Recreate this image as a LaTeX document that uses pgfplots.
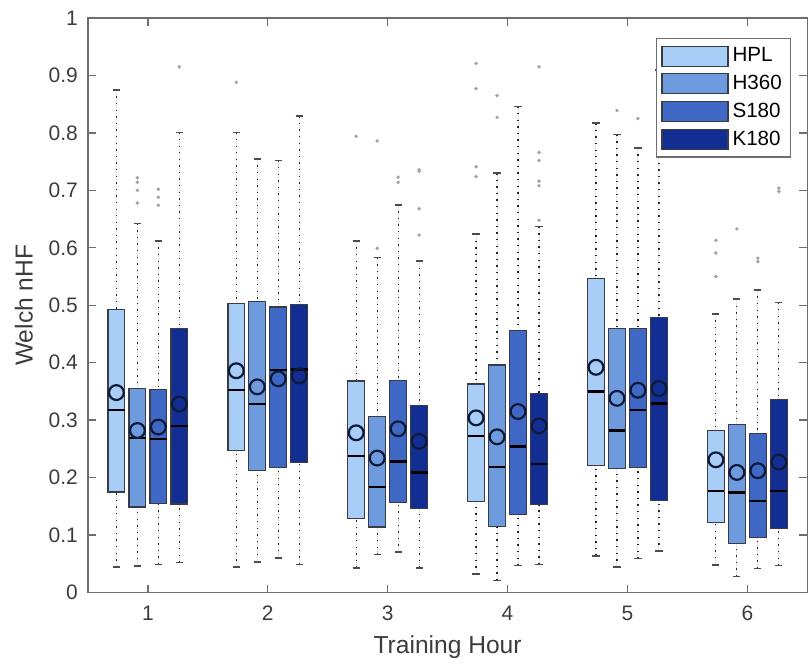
\documentclass[border=0pt]{standalone}
\usepackage{pgfplots}
\pgfplotsset{compat=1.18}
\usepgfplotslibrary{statistics}
\usepackage{fontspec}
\setmainfont{Liberation Sans}
\definecolor{cHPL}{RGB}{168,205,246}
\definecolor{cH}{RGB}{110,155,222}
\definecolor{cS}{RGB}{62,104,196}
\definecolor{cK}{RGB}{18,46,146}
\definecolor{boxedge}{RGB}{55,60,70}
\definecolor{meancol}{RGB}{14,26,58}
\definecolor{outcol}{RGB}{165,165,165}
\definecolor{axcol}{RGB}{110,110,110}
\definecolor{txtcol}{RGB}{60,60,60}
\newcommand{\bx}[8]{\addplot[boxplot prepared={draw position=#1, lower whisker=#3, lower quartile=#4, median=#5, upper quartile=#6, upper whisker=#7, box extend=0.14, whisker extend=0.06}, fill=#2, draw=boxedge, line width=0.6pt, mark=*, mark size=0.55pt, mark options={draw=outcol, fill=outcol, solid}] coordinates {#8};}
\begin{document}
\begin{tikzpicture}
\begin{axis}[
  scale only axis,
  width=360pt, height=287.5pt,
  xmin=0.5, xmax=6.5, ymin=0, ymax=1,
  xtick={1,2,3,4,5,6},
  ytick={0,0.1,0.2,0.3,0.4,0.5,0.6,0.7,0.8,0.9,1},
  yticklabels={0,0.1,0.2,0.3,0.4,0.5,0.6,0.7,0.8,0.9,1},
  tick align=inside,
  major tick length=4pt,
  axis line style={axcol, line width=0.7pt},
  every tick/.style={axcol, line width=0.7pt},
  /pgf/number format/assume math mode=true,
  tick label style={font=\fontsize{10.5}{12}\selectfont, text=txtcol},
  xticklabel style={yshift=-3pt},
  yticklabel style={xshift=-1.5pt},
  xlabel={Training Hour},
  ylabel={Welch nHF},
  every axis x label/.style={at={(axis description cs:0.5,-0.0957)}, anchor=center, font=\fontsize{12.3}{14}\selectfont, text=txtcol},
  every axis y label/.style={at={(axis description cs:-0.089,0.5)}, anchor=center, rotate=90, font=\fontsize{12.3}{14}\selectfont, text=txtcol},
  boxplot/draw direction=y,
  boxplot/every median/.style={draw=black, line width=1.1pt},
  boxplot/draw/lower whisker/.code={
    \draw[black!85, line width=0.6pt, dash pattern=on 0.7pt off 2.6pt] (boxplot cs:\pgfplotsboxplotvalue{lower whisker}) -- (boxplot cs:\pgfplotsboxplotvalue{lower quartile});
    \draw[black!70, line width=0.8pt, solid] (boxplot whisker cs:\pgfplotsboxplotvalue{lower whisker},0) -- (boxplot whisker cs:\pgfplotsboxplotvalue{lower whisker},1);
  },
  boxplot/draw/upper whisker/.code={
    \draw[black!85, line width=0.6pt, dash pattern=on 0.7pt off 2.6pt] (boxplot cs:\pgfplotsboxplotvalue{upper whisker}) -- (boxplot cs:\pgfplotsboxplotvalue{upper quartile});
    \draw[black!70, line width=0.8pt, solid] (boxplot whisker cs:\pgfplotsboxplotvalue{upper whisker},0) -- (boxplot whisker cs:\pgfplotsboxplotvalue{upper whisker},1);
  },
  legend style={at={(1,1)}, anchor=north east, xshift=-8pt, yshift=-10pt, draw=axcol, line width=0.6pt, font=\fontsize{10.3}{11}\selectfont, inner sep=2.5pt, row sep=1.2pt, fill=white},
  legend cell align=left,
  legend image code/.code={\draw[#1, draw=boxedge, line width=0.6pt] (0pt,-5pt) rectangle (33pt,5pt);},
]
% group 1
\bx{0.7375}{cHPL}{0.044}{0.175}{0.318}{0.492}{0.875}{}
\bx{0.9125}{cH}{0.046}{0.149}{0.269}{0.355}{0.642}{(0,0.722)(0,0.714)(0,0.700)(0,0.678)}
\bx{1.0875}{cS}{0.049}{0.155}{0.267}{0.354}{0.612}{(0,0.702)(0,0.688)(0,0.674)}
\bx{1.2625}{cK}{0.052}{0.154}{0.290}{0.459}{0.801}{(0,0.915)}
% group 2
\bx{1.7375}{cHPL}{0.044}{0.247}{0.352}{0.503}{0.801}{(0,0.888)}
\bx{1.9125}{cH}{0.053}{0.213}{0.328}{0.507}{0.755}{}
\bx{2.0875}{cS}{0.060}{0.217}{0.387}{0.497}{0.752}{}
\bx{2.2625}{cK}{0.049}{0.226}{0.388}{0.501}{0.829}{}
% group 3
\bx{2.7375}{cHPL}{0.043}{0.129}{0.237}{0.368}{0.612}{(0,0.794)}
\bx{2.9125}{cH}{0.066}{0.114}{0.184}{0.306}{0.583}{(0,0.786)(0,0.599)}
\bx{3.0875}{cS}{0.070}{0.157}{0.228}{0.369}{0.675}{(0,0.723)(0,0.714)}
\bx{3.2625}{cK}{0.043}{0.146}{0.209}{0.325}{0.577}{(0,0.736)(0,0.733)(0,0.668)(0,0.622)}
% group 4
\bx{3.7375}{cHPL}{0.032}{0.158}{0.273}{0.363}{0.624}{(0,0.921)(0,0.877)(0,0.741)(0,0.724)}
\bx{3.9125}{cH}{0.021}{0.115}{0.219}{0.396}{0.730}{(0,0.865)(0,0.827)}
\bx{4.0875}{cS}{0.047}{0.136}{0.254}{0.456}{0.846}{}
\bx{4.2625}{cK}{0.049}{0.153}{0.224}{0.346}{0.637}{(0,0.915)(0,0.766)(0,0.752)(0,0.716)(0,0.708)(0,0.648)}
% group 5
\bx{4.7375}{cHPL}{0.064}{0.221}{0.350}{0.547}{0.817}{}
\bx{4.9125}{cH}{0.044}{0.216}{0.282}{0.459}{0.797}{(0,0.839)}
\bx{5.0875}{cS}{0.059}{0.218}{0.317}{0.459}{0.774}{(0,0.825)}
\bx{5.2625}{cK}{0.072}{0.160}{0.329}{0.478}{0.909}{}
% group 6
\bx{5.7375}{cHPL}{0.048}{0.122}{0.176}{0.282}{0.485}{(0,0.613)(0,0.591)(0,0.550)}
\bx{5.9125}{cH}{0.028}{0.086}{0.174}{0.292}{0.511}{(0,0.633)}
\bx{6.0875}{cS}{0.042}{0.096}{0.159}{0.277}{0.527}{(0,0.582)(0,0.576)}
\bx{6.2625}{cK}{0.047}{0.112}{0.177}{0.336}{0.505}{(0,0.704)(0,0.698)}
% means
\addplot[only marks, mark=o, mark size=3.7pt, mark options={draw=meancol, line width=1.1pt}, forget plot] coordinates {
(0.7375,0.348)(0.9125,0.282)(1.0875,0.288)(1.2625,0.328)
(1.7375,0.386)(1.9125,0.358)(2.0875,0.372)(2.2625,0.377)
(2.7375,0.278)(2.9125,0.234)(3.0875,0.285)(3.2625,0.263)
(3.7375,0.304)(3.9125,0.271)(4.0875,0.315)(4.2625,0.290)
(4.7375,0.392)(4.9125,0.338)(5.0875,0.352)(5.2625,0.355)
(5.7375,0.231)(5.9125,0.209)(6.0875,0.212)(6.2625,0.227)
};
\addlegendimage{fill=cHPL}
\addlegendimage{fill=cH}
\addlegendimage{fill=cS}
\addlegendimage{fill=cK}
\legend{HPL,H360,S180,K180}
\end{axis}
\path (current axis.south west) ++(-44pt,-35.5pt);
\path (current axis.north east) ++(0pt,9pt);
\end{tikzpicture}
\end{document}
